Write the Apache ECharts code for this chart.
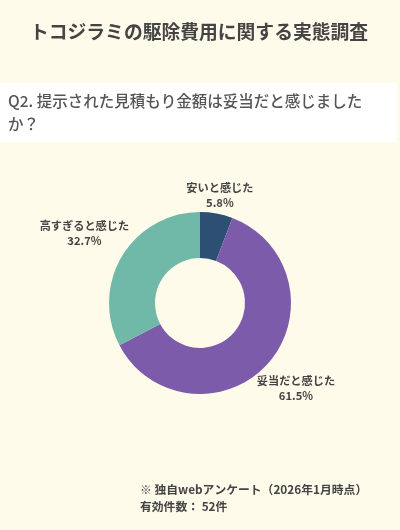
<!DOCTYPE html>
<html><head><meta charset="utf-8">
<script src="https://cdn.jsdelivr.net/npm/echarts@6/dist/echarts.min.js"></script>
<style>html,body{margin:0;padding:0;background:#fffbeb;}#c{width:400px;height:530px;}</style>
</head><body><div id="c"></div>
<script>
const titleText = 'トコジラミの駆除費用に関する実態調査';
const questionLines = ['Q2. 提示された見積もり金額は妥当だと感じました', 'か？'];
const categories = ['安いと感じた', '妥当だと感じた', '高すぎると感じた'];
const values = [5.8, 61.5, 32.7];
const colors = ['#2d4f73', '#7d5bab', '#70b8a8'];
const footnotes = ['※ 独自webアンケート（2026年1月時点）', '有効件数： 52件'];

const FONT = '"Noto Sans CJK JP", "Noto Sans", sans-serif';
const chart = echarts.init(document.getElementById('c'));

const data = categories.map((n, i) => ({ name: n, value: values[i], itemStyle: { color: colors[i] } }));

chart.setOption({
  backgroundColor: '#fffbeb',
  animation: false,
  graphic: [
    { type: 'text', left: 30, top: 22, style: { text: titleText, font: 'bold 18.8px ' + FONT, fill: '#444' } },
    { type: 'rect', shape: { x: 0, y: 83, width: 397, height: 59 }, style: { fill: '#ffffff' }, z: 0 },
    { type: 'text', left: 8, top: 90, style: { text: questionLines.join('\n'), font: '500 15.5px ' + FONT, fill: '#555', lineHeight: 23 }, z: 1 },
    { type: 'text', left: 140, top: 481, style: { text: footnotes.join('\n'), font: 'bold 11.8px ' + FONT, fill: '#444', lineHeight: 17 } }
  ],
  series: [{
    type: 'pie',
    center: [200, 303],
    radius: [45, 91],
    startAngle: 90,
    clockwise: true,
    data: data,
    label: {
      show: true,
      position: 'outside',
      formatter: '{b}\n{c}%',
      fontFamily: FONT,
      fontWeight: 'bold',
      fontSize: 11.2,
      lineHeight: 15,
      color: '#444',
      align: 'center'
    },
    labelLine: { show: false, length: 5, length2: 0 },
    emphasis: { disabled: true },
    labelLayout: function (p) {
      const lay = chart.getModel().getSeriesByIndex(0).getData().getItemLayout(p.dataIndex);
      const mid = (lay.startAngle + lay.endAngle) / 2;
      const dx = Math.cos(mid), dy = Math.sin(mid);
      const w = p.labelRect.width, h = p.labelRect.height;
      const R = lay.r - 2 + Math.abs(dx) * w / 2 + Math.abs(dy) * h / 2;
      return { x: lay.cx + dx * R, y: lay.cy + dy * R, align: 'center', verticalAlign: 'middle' };
    }
  }]
});
</script></body></html>
